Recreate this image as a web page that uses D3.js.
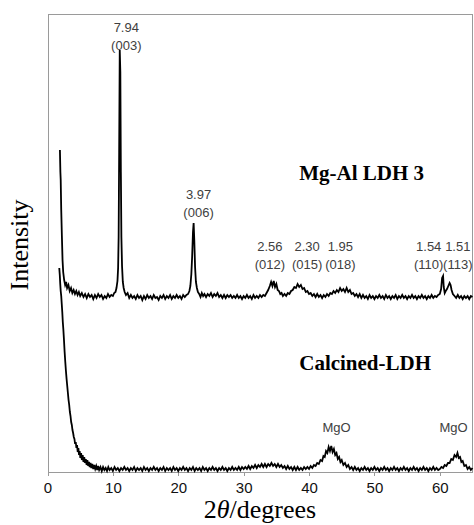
<!DOCTYPE html>
<html>
<head>
    <meta charset='utf-8' />
    <title>XRD patterns: Mg-Al LDH 3 and calcined LDH</title>
    <script src="https://d3js.org/d3.v7.min.js" charset="utf-8"></script>
    <style>
        body {
            margin: 0;
            background: #fff;
        }
        .axis path,
        .axis line {
            stroke: #9a9a9a;
            shape-rendering: crispEdges;
        }
        .axis text {
            font-family: "Liberation Sans", Arial, sans-serif;
            font-size: 15px;
            fill: #111;
        }
        .trace {
            fill: none;
            stroke: #000;
            stroke-width: 1.8;
            stroke-linejoin: miter;
        }
        .peak {
            font-family: "Liberation Sans", Arial, sans-serif;
            font-size: 13px;
            fill: #404040;
        }
        .series {
            font-family: "Liberation Serif", "Times New Roman", serif;
            font-weight: bold;
            font-size: 21px;
        }
        .title {
            font-family: "Liberation Serif", "Times New Roman", serif;
            font-size: 26px;
        }
    </style>
</head>
<body>
<svg class="chart"></svg>

<script>

// 2theta (degrees) vs intensity (arbitrary)
var ldhPattern = [
    [1.90,322],[1.97,300],[2.02,292],[2.10,262],[2.20,236],[2.30,212],[2.40,200],[2.55,192],
    [2.70,187],[2.85,190],[3.00,184],[3.20,187],[3.40,181],[3.60,184],[3.80,179],[4.00,182],
    [4.20,178],[4.40,181],[4.60,177],[4.80,180],[5.00,176],[5.25,179],[5.50,175],[5.75,178],
    [6.00,174],[6.25,178],[6.50,175],[6.75,177],[7.00,173],[7.25,177],[7.50,174],[7.75,178],
    [8.00,175],[8.25,177],[8.50,173],[8.75,176],[9.00,174],[9.25,178],[9.50,175],[9.75,177],
    [10.00,176],[10.20,179],[10.40,180],[10.55,184],[10.70,191],[10.80,204],[10.88,235],[10.96,320],
    [11.05,422],[11.14,400],[11.22,300],[11.30,235],[11.40,206],[11.52,190],[11.65,184],[11.80,180],
    [12.00,177],[12.25,179],[12.50,174],[12.75,177],[13.00,174],[13.25,176],[13.50,173],[13.75,177],
    [14.00,174],[14.25,176],[14.50,172],[14.75,176],[15.00,173],[15.25,177],[15.50,174],[15.75,176],
    [16.00,173],[16.25,177],[16.50,174],[16.75,175],[17.00,172],[17.25,176],[17.50,174],[17.75,177],
    [18.00,173],[18.25,176],[18.50,174],[18.75,177],[19.00,173],[19.25,176],[19.50,174],[19.75,177],
    [20.00,174],[20.25,176],[20.50,173],[20.75,177],[21.00,175],[21.25,177],[21.50,178],[21.70,181],
    [21.85,186],[22.00,198],[22.12,215],[22.25,240],[22.35,249],[22.45,232],[22.57,205],[22.70,190],
    [22.85,184],[23.00,180],[23.20,178],[23.40,175],[23.60,179],[23.80,176],[24.00,178],[24.25,175],
    [24.50,178],[24.75,176],[25.00,179],[25.25,175],[25.50,178],[25.75,176],[26.00,179],[26.25,175],
    [26.50,177],[26.75,174],[27.00,177],[27.25,174],[27.50,177],[27.75,175],[28.00,177],[28.25,174],
    [28.50,176],[28.75,174],[29.00,177],[29.25,174],[29.50,176],[29.75,173],[30.00,176],[30.25,174],
    [30.50,177],[30.75,174],[31.00,176],[31.25,173],[31.50,177],[31.75,174],[32.00,176],[32.25,174],
    [32.50,177],[32.75,175],[33.00,177],[33.25,176],[33.50,179],[33.75,182],[34.00,186],[34.20,190],
    [34.40,186],[34.60,191],[34.80,185],[35.00,188],[35.20,182],[35.40,181],[35.60,178],[35.80,179],
    [36.00,176],[36.25,178],[36.50,176],[36.75,179],[37.00,178],[37.25,181],[37.50,182],[37.75,185],
    [38.00,184],[38.25,188],[38.50,185],[38.75,187],[39.00,183],[39.25,184],[39.50,180],[39.75,181],
    [40.00,178],[40.25,179],[40.50,176],[40.75,178],[41.00,175],[41.25,178],[41.50,175],[41.75,177],
    [42.00,174],[42.25,177],[42.50,175],[42.75,178],[43.00,176],[43.25,179],[43.50,178],[43.75,181],
    [44.00,179],[44.25,182],[44.50,180],[44.75,184],[45.00,181],[45.25,183],[45.50,180],[45.75,184],
    [46.00,180],[46.25,182],[46.50,178],[46.75,179],[47.00,176],[47.25,178],[47.50,175],[47.75,178],
    [48.00,174],[48.25,177],[48.50,174],[48.75,176],[49.00,173],[49.25,177],[49.50,174],[49.75,176],
    [50.00,173],[50.25,176],[50.50,174],[50.75,177],[51.00,174],[51.25,176],[51.50,173],[51.75,177],
    [52.00,174],[52.25,176],[52.50,173],[52.75,176],[53.00,174],[53.25,177],[53.50,173],[53.75,176],
    [54.00,174],[54.25,177],[54.50,174],[54.75,176],[55.00,173],[55.25,176],[55.50,174],[55.75,177],
    [56.00,174],[56.25,176],[56.50,173],[56.75,176],[57.00,174],[57.25,177],[57.50,174],[57.75,176],
    [58.00,173],[58.25,176],[58.50,174],[58.75,177],[59.00,174],[59.25,176],[59.50,175],[59.75,177],
    [60.00,178],[60.20,183],[60.35,194],[60.50,196],[60.60,185],[60.75,179],[60.90,181],[61.10,183],
    [61.30,186],[61.50,189],[61.65,187],[61.80,182],[62.00,178],[62.25,176],[62.50,174],[62.75,177],
    [63.00,174],[63.25,176],[63.50,173],[63.75,176],[64.00,174],[64.25,176],[64.50,173],[64.75,176],
    [65.00,175]
];

var calcinedPattern = [
    [1.80,204],[1.88,197],[1.95,188],[2.02,181],[2.10,176],[2.18,168],[2.26,160],[2.34,150],
    [2.42,143],[2.52,132],[2.62,120],[2.72,110],[2.82,101],[2.92,93],[3.02,86],[3.12,79],
    [3.22,72],[3.32,67],[3.42,60],[3.52,56],[3.62,50],[3.72,47],[3.82,42],[3.92,39],
    [4.02,35],[4.12,33],[4.22,28],[4.32,30],[4.42,24],[4.52,27],[4.62,20],[4.72,24],
    [4.82,17],[4.92,21],[5.02,14],[5.14,19],[5.26,12],[5.38,17],[5.50,10],[5.62,15],
    [5.74,9],[5.86,13],[5.98,7],[6.10,12],[6.22,6],[6.34,10],[6.46,5],[6.58,9],
    [6.70,4],[6.85,8],[7.00,3],[7.15,7],[7.30,3],[7.45,6],[7.60,2],[7.75,6],
    [7.90,2],[8.10,5],[8.30,1],[8.50,5],[8.70,2],[8.90,4],[9.10,1],[9.30,5],
    [9.50,2],[9.75,4],[10.00,1],[10.25,5],[10.50,2],[10.75,4],[11.00,1],[11.25,4],
    [11.50,2],[11.75,5],[12.00,2],[12.25,4],[12.50,1],[12.75,4],[13.00,2],[13.25,5],
    [13.50,1],[13.75,4],[14.00,2],[14.25,4],[14.50,1],[14.75,5],[15.00,2],[15.25,4],
    [15.50,1],[15.75,4],[16.00,2],[16.25,5],[16.50,2],[16.75,4],[17.00,1],[17.25,4],
    [17.50,2],[17.75,5],[18.00,1],[18.25,4],[18.50,2],[18.75,4],[19.00,1],[19.25,5],
    [19.50,2],[19.75,4],[20.00,1],[20.25,4],[20.50,2],[20.75,5],[21.00,2],[21.25,4],
    [21.50,1],[21.75,4],[22.00,2],[22.25,5],[22.50,1],[22.75,4],[23.00,2],[23.25,4],
    [23.50,1],[23.75,5],[24.00,2],[24.25,4],[24.50,1],[24.75,4],[25.00,2],[25.25,5],
    [25.50,2],[25.75,4],[26.00,1],[26.25,4],[26.50,2],[26.75,5],[27.00,2],[27.25,4],
    [27.50,1],[27.75,4],[28.00,2],[28.25,5],[28.50,2],[28.75,4],[29.00,2],[29.25,5],
    [29.50,2],[29.75,5],[30.00,3],[30.25,5],[30.50,3],[30.75,6],[31.00,3],[31.25,6],
    [31.50,4],[31.75,7],[32.00,4],[32.25,7],[32.50,5],[32.75,8],[33.00,5],[33.25,8],
    [33.50,5],[33.75,8],[34.00,6],[34.25,9],[34.50,6],[34.75,8],[35.00,5],[35.25,8],
    [35.50,5],[35.75,7],[36.00,4],[36.25,6],[36.50,3],[36.75,6],[37.00,3],[37.25,5],
    [37.50,2],[37.75,5],[38.00,2],[38.25,5],[38.50,2],[38.75,4],[39.00,2],[39.25,5],
    [39.50,3],[39.75,5],[40.00,3],[40.25,6],[40.50,4],[40.75,7],[41.00,6],[41.25,9],
    [41.50,8],[41.75,12],[42.00,11],[42.20,16],[42.40,15],[42.60,21],[42.80,19],[43.00,25],
    [43.20,21],[43.40,26],[43.60,20],[43.80,23],[44.00,17],[44.20,19],[44.40,13],[44.60,15],
    [44.80,10],[45.00,12],[45.25,7],[45.50,9],[45.75,5],[46.00,7],[46.25,3],[46.50,5],
    [46.75,2],[47.00,5],[47.25,2],[47.50,4],[47.75,1],[48.00,4],[48.25,2],[48.50,5],
    [48.75,2],[49.00,4],[49.25,1],[49.50,4],[49.75,2],[50.00,5],[50.25,2],[50.50,4],
    [50.75,1],[51.00,4],[51.25,2],[51.50,5],[51.75,2],[52.00,4],[52.25,1],[52.50,4],
    [52.75,2],[53.00,5],[53.25,2],[53.50,4],[53.75,1],[54.00,4],[54.25,2],[54.50,5],
    [54.75,2],[55.00,4],[55.25,1],[55.50,4],[55.75,2],[56.00,5],[56.25,2],[56.50,4],
    [56.75,1],[57.00,4],[57.25,2],[57.50,5],[57.75,2],[58.00,4],[58.25,1],[58.50,4],
    [58.75,2],[59.00,5],[59.25,2],[59.50,4],[59.75,2],[60.00,3],[60.25,5],[60.50,4],
    [60.75,7],[61.00,6],[61.25,9],[61.50,9],[61.75,13],[62.00,12],[62.25,17],[62.50,15],
    [62.70,19],[62.90,14],[63.10,15],[63.30,10],[63.50,11],[63.75,6],[64.00,7],[64.25,3],
    [64.50,5],[64.75,2],[65.00,4]
];

// peak annotations: d-spacing (A), Miller index, where the label sits [2theta, intensity]
var peakD = ["7.94", "3.97", "2.56", "2.30", "1.95", "1.54", "1.51"];
var peakHkl = ["(003)", "(006)", "(012)", "(015)", "(018)", "(110)", "(113)"];
var peakLabelAt = [[12.05,440], [23.1,273], [34.0,221], [39.7,221], [44.8,221], [58.3,221], [62.75,221]];

var mgoLabel = "MgO";
var mgoLabelAt = [[44.2,40], [62.1,40]];

var seriesNames = ["Mg-Al LDH 3", "Calcined-LDH"];
var seriesNameAt = [[38.5,292], [38.5,102]];

var xTicks = [0, 10, 20, 30, 40, 50, 60];
var xMax = 65;
var yMax = 458;

    // set dimentions and margins

var W = 474, H = 525;
var margin = {top: 14, right: 1.5, bottom: 53, left: 47.5},
    width = W - margin.left - margin.right,
    height = H - margin.top - margin.bottom;

var x = d3.scaleLinear().domain([0, xMax]).range([0, width]);
var y = d3.scaleLinear().domain([0, yMax]).range([height, 0]);

var svg = d3.select(".chart")
    .attr("width", W)
    .attr("height", H);

var chart = svg.append("g")
    .attr("transform", "translate(" + margin.left + "," + margin.top + ")");

// frame on top and right
chart.append("line")
    .attr("x1", x(0)).attr("x2", x(xMax))
    .attr("y1", y(yMax)).attr("y2", y(yMax))
    .attr("stroke", "#9a9a9a").attr("shape-rendering", "crispEdges");
chart.append("line")
    .attr("x1", x(xMax)).attr("x2", x(xMax))
    .attr("y1", y(yMax)).attr("y2", y(0))
    .attr("stroke", "#9a9a9a").attr("shape-rendering", "crispEdges");

// axes
chart.append("g")
    .attr("class", "axis")
    .attr("transform", "translate(0," + height + ")")
    .call(d3.axisBottom(x).tickValues(xTicks).tickSizeInner(4).tickSizeOuter(0).tickPadding(6));

chart.append("g")
    .attr("class", "axis")
    .call(d3.axisLeft(y).tickValues([]).tickSizeOuter(0));

// traces
var line = d3.line()
    .x(function(d){ return x(d[0]); })
    .y(function(d){ return y(d[1]); });

chart.append("path").datum(calcinedPattern).attr("class", "trace").attr("d", line);
chart.append("path").datum(ldhPattern).attr("class", "trace").attr("d", line);

// peak labels
var peaks = chart.selectAll(".peakLabel")
    .data(peakD)
    .enter()
    .append("g")
    .attr("class", "peakLabel")
    .attr("transform", function(d, i){
        return "translate(" + x(peakLabelAt[i][0]) + "," + y(peakLabelAt[i][1]) + ")";
    });

peaks.append("text")
    .attr("class", "peak")
    .attr("text-anchor", "middle")
    .text(function(d){ return d; });

peaks.append("text")
    .attr("class", "peak")
    .attr("text-anchor", "middle")
    .attr("y", 17.5)
    .text(function(d, i){ return peakHkl[i]; });

chart.selectAll(".mgo")
    .data(mgoLabelAt)
    .enter()
    .append("text")
    .attr("class", "peak mgo")
    .attr("text-anchor", "middle")
    .attr("x", function(d){ return x(d[0]); })
    .attr("y", function(d){ return y(d[1]); })
    .text(mgoLabel);

// series names
chart.selectAll(".series")
    .data(seriesNames)
    .enter()
    .append("text")
    .attr("class", "series")
    .attr("x", function(d, i){ return x(seriesNameAt[i][0]); })
    .attr("y", function(d, i){ return y(seriesNameAt[i][1]); })
    .text(function(d){ return d; });

// axis titles
var xTitle = svg.append("text")
    .attr("class", "title")
    .attr("text-anchor", "middle")
    .attr("x", margin.left + width / 2)
    .attr("y", 518);
xTitle.append("tspan").text("2");
xTitle.append("tspan").attr("font-style", "italic").text("\u03b8");
xTitle.append("tspan").text("/degrees");

svg.append("text")
    .attr("class", "title")
    .attr("text-anchor", "middle")
    .attr("transform", "translate(28," + (margin.top + height / 2 + 2) + ") rotate(-90)")
    .text("Intensity");

</script>
</body>
</html>
